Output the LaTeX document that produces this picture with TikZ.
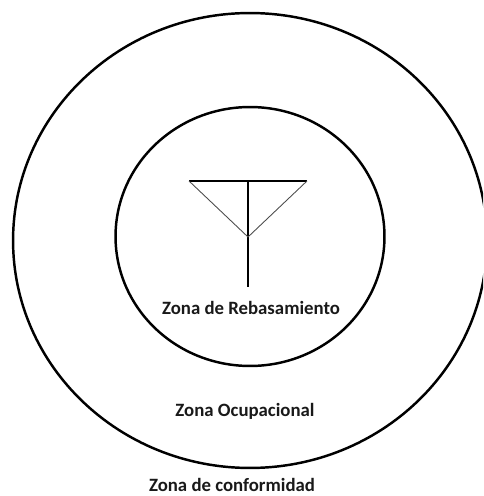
\documentclass[tikz,border=0pt]{standalone}
\usepackage{fontspec}
\setmainfont{Carlito}
\usetikzlibrary{positioning}
\tikzset{
  zonecircle/.style={draw=black,line width=1.4pt},
  zonelabel/.style={font=\bfseries\fontsize{10.7}{12}\selectfont,text=black!90,inner sep=0pt}
}
\begin{document}
\begin{tikzpicture}[x=0.02cm,y=-0.02cm]
\useasboundingbox (0,0) rectangle (483,496);
% zonas
\begin{scope}
  \clip (0,0) rectangle (483,496);
  \draw[zonecircle] (250,240.5) ellipse[x radius=4.74cm,y radius=4.55cm];
\end{scope}
\draw[zonecircle] (250,236.5) ellipse[x radius=2.69cm,y radius=2.59cm];
% antena
\coordinate (barleft) at (189,181);
\coordinate (barright) at (307,181);
\coordinate (barmid) at (248,181);
\coordinate (joint) at (248,237);
\coordinate (foot) at (248,287);
\draw[line width=1.4pt] (barleft) -- (barright);
\draw[line width=1.4pt] (barmid) -- (foot);
\draw[line width=.5pt,black!70] (barleft) -- (joint) -- (barright);
% textos
\node[zonelabel] (rebasamiento) at (251,308) {Zona de Rebasamiento};
\node[zonelabel] (ocupacional) at (245,411) {Zona Ocupacional};
\node[zonelabel] (conformidad) at (232,485) {Zona de conformidad};
\end{tikzpicture}
\end{document}
